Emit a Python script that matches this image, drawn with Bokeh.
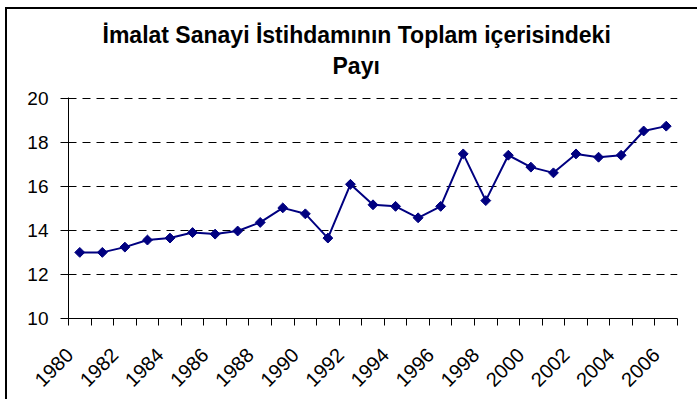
import math
from bokeh.plotting import figure
from bokeh.models import Range1d, FixedTicker, Title
from bokeh.embed import file_html
from bokeh.resources import INLINE

# ---- data ----
years = list(range(1980, 2007))
share = [13.0, 13.0, 13.24, 13.56, 13.65, 13.9, 13.83, 13.97, 14.36, 15.02,
         14.75, 13.65, 16.09, 15.16, 15.09, 14.57, 15.09, 17.47, 15.35, 17.41,
         16.87, 16.61, 17.47, 17.32, 17.41, 18.51, 18.73]
y_ticks = [10, 12, 14, 16, 18, 20]
label_years = [y for y in years if y % 2 == 0]
title_line1 = "İmalat Sanayi İstihdamının Toplam içerisindeki"
title_line2 = "Payı"

FONT = "Liberation Sans"
LABEL_SHIFT = -0.45  # rotated labels end slightly left of the category centre

p = figure(width=692, height=392, output_backend="svg", toolbar_location=None,
           x_range=Range1d(years[0] - 0.5, years[-1] + 0.5),
           y_range=Range1d(10, 20.03),
           min_border_left=61, min_border_right=22,
           min_border_top=88, min_border_bottom=83)
p.styles = {"margin-left": "5px", "margin-top": "7px",
            "border-left": "2px solid black", "border-top": "2px solid black"}
p.outline_line_color = None
p.background_fill_color = "white"
p.border_fill_color = "white"

# title: spacer nearest the frame, then "Payı", then the first line (outermost)
p.add_layout(Title(text=" ", text_font_size="2px", standoff=13), "above")
p.add_layout(Title(text=title_line2, align="left", offset=264, text_font=FONT,
                   text_font_size="23px", text_font_style="bold",
                   text_color="black", standoff=3), "above")
p.title.text = title_line1
p.title.align = "left"
p.title.offset = 34
p.title.text_font = FONT
p.title.text_font_size = "23px"
p.title.text_font_style = "bold"
p.title.text_color = "black"
p.title.standoff = 3

# x axis: ticks at category boundaries, labels at even years
label_pos = [y + LABEL_SHIFT for y in label_years]
xa = p.xaxis[0]
xa.ticker = FixedTicker(ticks=label_pos,
                        minor_ticks=[y - 0.5 for y in years] + [years[-1] + 0.5])
xa.major_label_overrides = {pos: str(y) for pos, y in zip(label_pos, label_years)}
xa.major_tick_in = 0
xa.major_tick_out = 0
xa.minor_tick_in = 0
xa.minor_tick_out = 7
xa.minor_tick_line_color = "black"
xa.axis_line_color = "black"
xa.major_label_orientation = math.pi / 4
xa.major_label_standoff = 26
xa.major_label_text_font = FONT
xa.major_label_text_font_size = "20px"
xa.major_label_text_color = "black"

ya = p.yaxis[0]
ya.ticker = FixedTicker(ticks=y_ticks)
ya.major_tick_in = 0
ya.major_tick_out = 8
ya.minor_tick_line_color = None
ya.axis_line_color = "black"
ya.major_tick_line_color = "black"
ya.major_label_standoff = 12
ya.major_label_text_font = FONT
ya.major_label_text_font_size = "19px"
ya.major_label_text_color = "black"

p.xgrid.grid_line_color = None
p.ygrid.ticker = FixedTicker(ticks=y_ticks[1:])
p.ygrid.grid_line_color = "black"
p.ygrid.grid_line_dash = "8 6"
p.ygrid.grid_line_width = 1

p.line(years, share, line_color="#000080", line_width=2)
p.scatter(years, share, marker="square", size=7, angle=math.pi / 4,
          fill_color="#000080", line_color="#000080", line_width=1)

open("out.html", "w").write(file_html(p, INLINE))
